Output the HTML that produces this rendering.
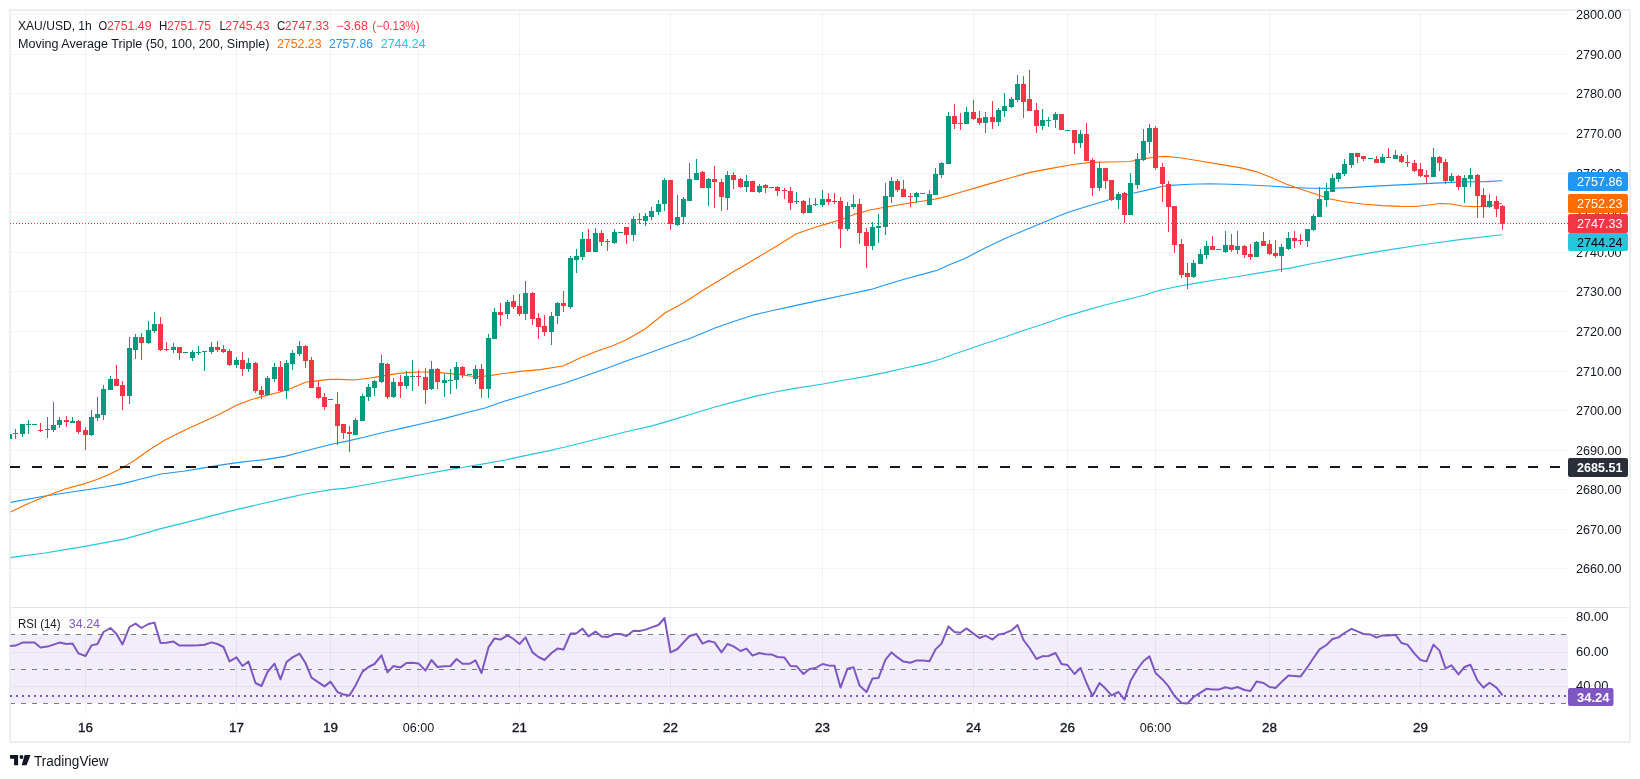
<!DOCTYPE html>
<html lang="en"><head><meta charset="utf-8"><title>XAU/USD 1h chart</title>
<style>html,body{margin:0;padding:0;background:#fff}svg{display:block;will-change:transform}text{font-family:"Liberation Sans",Arial,sans-serif;font-size:12px;fill:#131722}.ax{font-size:12.4px}.b{font-weight:bold}.d{font-size:13.4px;stroke:#131722;stroke-width:.35px}</style>
</head><body>
<svg width="1640" height="779" viewBox="0 0 1640 779">
<rect width="1640" height="779" fill="#fff"/>
<g shape-rendering="crispEdges" fill="#2a2e39" fill-opacity="0.06">
<rect x="85" y="11" width="1" height="596"/>
<rect x="85" y="608" width="1" height="105"/>
<rect x="236" y="11" width="1" height="596"/>
<rect x="236" y="608" width="1" height="105"/>
<rect x="330" y="11" width="1" height="596"/>
<rect x="330" y="608" width="1" height="105"/>
<rect x="418" y="11" width="1" height="596"/>
<rect x="418" y="608" width="1" height="105"/>
<rect x="519" y="11" width="1" height="596"/>
<rect x="519" y="608" width="1" height="105"/>
<rect x="670" y="11" width="1" height="596"/>
<rect x="670" y="608" width="1" height="105"/>
<rect x="822" y="11" width="1" height="596"/>
<rect x="822" y="608" width="1" height="105"/>
<rect x="973" y="11" width="1" height="596"/>
<rect x="973" y="608" width="1" height="105"/>
<rect x="1067" y="11" width="1" height="596"/>
<rect x="1067" y="608" width="1" height="105"/>
<rect x="1155" y="11" width="1" height="596"/>
<rect x="1155" y="608" width="1" height="105"/>
<rect x="1269" y="11" width="1" height="596"/>
<rect x="1269" y="608" width="1" height="105"/>
<rect x="1420" y="11" width="1" height="596"/>
<rect x="1420" y="608" width="1" height="105"/>
<rect x="11" y="568" width="1557" height="1"/>
<rect x="11" y="529" width="1557" height="1"/>
<rect x="11" y="489" width="1557" height="1"/>
<rect x="11" y="450" width="1557" height="1"/>
<rect x="11" y="410" width="1557" height="1"/>
<rect x="11" y="371" width="1557" height="1"/>
<rect x="11" y="331" width="1557" height="1"/>
<rect x="11" y="291" width="1557" height="1"/>
<rect x="11" y="252" width="1557" height="1"/>
<rect x="11" y="212" width="1557" height="1"/>
<rect x="11" y="173" width="1557" height="1"/>
<rect x="11" y="133" width="1557" height="1"/>
<rect x="11" y="93" width="1557" height="1"/>
<rect x="11" y="54" width="1557" height="1"/>
<rect x="11" y="14" width="1557" height="1"/>
<rect x="11" y="617" width="1557" height="1"/>
<rect x="11" y="652" width="1557" height="1"/>
<rect x="11" y="686" width="1557" height="1"/>
</g>
<rect x="10" y="634" width="1558" height="69" fill="#7e57c2" fill-opacity="0.1" shape-rendering="crispEdges"/>
<g stroke="#787b86" stroke-width="1" stroke-dasharray="5 6" shape-rendering="crispEdges">
<line x1="10" y1="634.5" x2="1568" y2="634.5"/>
<line x1="10" y1="669.5" x2="1568" y2="669.5"/>
<line x1="10" y1="703.5" x2="1568" y2="703.5"/>
</g>
<g shape-rendering="crispEdges">
<rect x="10" y="10" width="1620" height="732" fill="none" stroke="#eceef3" stroke-width="2"/>
<rect x="11" y="607" width="1618" height="1" fill="#e0e3eb"/>
</g>
<polyline fill="none" stroke="#26c6da" stroke-width="1.1" stroke-linejoin="round" points="10.6,557.6 25.0,555.6 45.0,553.0 65.0,549.6 85.0,546.4 105.0,542.6 123.0,539.4 141.0,534.4 161.0,528.6 181.0,523.6 205.0,517.6 225.0,512.4 245.0,507.6 265.0,503.0 285.0,498.4 305.0,494.0 332.6,489.4 345.0,488.4 365.0,485.0 385.0,481.2 405.0,477.6 425.0,474.0 445.0,470.4 465.0,467.0 485.0,463.6 505.0,460.0 525.0,455.6 545.0,451.6 565.0,447.0 585.0,442.0 605.0,437.0 625.0,432.0 653.0,425.6 671.0,420.4 695.0,413.0 715.0,407.0 735.0,401.6 755.0,396.4 775.0,392.0 795.0,388.4 823.0,384.0 845.0,380.0 865.0,376.6 885.0,372.6 905.0,368.0 925.0,363.6 941.0,359.0 957.0,353.0 965.0,350.4 985.0,343.6 1005.0,337.0 1025.0,330.0 1045.0,323.4 1065.0,316.6 1085.0,310.6 1105.0,305.0 1125.0,300.0 1145.0,295.0 1157.0,291.0 1175.0,287.0 1195.0,283.4 1215.0,280.0 1235.0,277.0 1255.0,273.6 1275.0,270.4 1292.6,267.6 1310.0,264.0 1350.0,256.4 1390.0,249.6 1431.0,243.5 1461.6,239.4 1502.0,234.8"/>
<polyline fill="none" stroke="#2196f3" stroke-width="1.1" stroke-linejoin="round" points="10.6,502.4 45.0,496.0 85.0,490.0 105.0,487.0 123.0,483.6 141.0,479.0 161.0,474.0 185.0,471.0 205.0,467.6 225.0,464.4 245.0,461.6 265.0,459.6 285.0,456.4 305.0,451.0 332.6,444.0 345.0,441.6 365.0,437.0 385.0,432.0 405.0,427.6 425.0,423.0 445.0,418.4 465.0,413.0 485.0,408.0 505.0,401.0 519.0,397.0 545.0,389.0 565.0,383.0 585.0,376.0 605.0,369.0 629.0,360.0 645.0,354.4 671.0,345.0 691.0,338.0 715.0,328.0 735.0,321.0 755.0,314.6 775.0,310.0 795.0,305.6 823.0,299.6 845.0,295.0 871.0,289.4 885.0,285.0 905.0,279.0 925.0,273.6 938.0,270.0 950.0,264.5 965.0,258.4 985.0,248.0 1005.0,238.6 1025.0,230.0 1041.0,223.6 1055.0,217.6 1069.0,212.0 1085.0,207.0 1105.0,201.0 1118.0,197.0 1134.0,193.0 1150.0,189.4 1160.0,187.0 1170.0,185.4 1190.0,184.2 1210.0,183.8 1230.0,184.2 1250.0,185.0 1270.0,186.0 1290.0,187.4 1310.0,188.2 1330.0,188.4 1350.0,187.6 1370.0,186.4 1390.0,185.4 1410.0,184.4 1431.0,183.4 1450.0,182.4 1461.6,182.0 1486.0,181.6 1502.0,180.8"/>
<polyline fill="none" stroke="#ff6d00" stroke-width="1.1" stroke-linejoin="round" points="10.6,512.0 25.0,505.0 45.0,496.6 65.0,489.0 85.0,483.6 97.0,479.6 109.0,474.4 123.0,467.4 135.0,460.0 149.0,450.0 165.0,440.0 185.0,430.0 207.0,420.0 220.0,414.0 236.0,405.6 250.0,400.0 262.0,396.6 280.0,392.0 292.0,388.0 306.0,382.0 312.0,381.6 320.0,380.4 330.0,379.4 340.0,379.4 354.0,380.0 370.0,378.0 380.0,376.4 392.0,374.4 406.0,372.6 420.0,372.0 430.0,372.0 440.0,372.6 450.0,373.6 460.0,374.6 470.0,376.0 480.0,376.6 490.0,375.6 500.0,374.0 520.0,371.4 540.0,369.6 563.0,366.0 580.0,358.0 596.0,351.6 612.0,346.0 626.0,340.0 645.0,329.0 665.0,313.0 685.0,302.0 705.0,289.0 725.0,277.0 736.0,270.0 740.0,268.0 760.0,256.0 780.0,244.0 796.0,234.0 810.0,229.0 824.0,224.6 840.0,220.0 854.0,214.4 870.0,210.0 886.0,207.0 910.0,203.0 930.0,200.0 942.0,197.6 958.0,193.0 974.0,188.4 990.0,183.6 1010.0,178.0 1030.0,172.4 1050.0,168.6 1070.0,165.0 1090.0,162.4 1110.0,162.0 1130.0,161.5 1146.0,158.4 1156.0,157.0 1166.0,156.4 1180.0,157.8 1200.0,161.0 1220.0,164.4 1240.0,167.6 1256.0,171.6 1270.0,177.0 1286.0,184.0 1300.0,189.0 1314.0,193.6 1330.0,199.0 1346.0,202.0 1362.0,204.0 1382.0,205.6 1400.0,206.4 1415.0,206.5 1431.0,204.7 1440.0,203.5 1451.0,204.0 1462.0,206.0 1474.0,206.6 1486.0,206.3 1495.5,204.7 1502.0,203.2"/>
<g shape-rendering="crispEdges">
<path fill="#089981" d="M10 434h2v5h-2zM15 429h1v10h-1zM13 433h5v1h-5zM22 424h1v13h-1zM20 424h5v10h-5zM28 420h1v14h-1zM26 424h5v1h-5zM32 424h5v1h-5zM47 417h1v21h-1zM45 429h5v1h-5zM53 402h1v30h-1zM51 425h5v5h-5zM59 417h1v11h-1zM57 420h5v5h-5zM72 417h1v6h-1zM70 421h5v2h-5zM91 410h1v26h-1zM89 417h5v18h-5zM97 397h1v24h-1zM95 414h5v4h-5zM103 385h1v35h-1zM101 389h5v26h-5zM110 376h1v14h-1zM108 379h5v11h-5zM129 337h1v67h-1zM127 348h5v48h-5zM135 334h1v25h-1zM133 337h5v13h-5zM148 321h1v23h-1zM146 330h5v13h-5zM154 312h1v21h-1zM152 324h5v7h-5zM173 343h1v10h-1zM171 347h5v3h-5zM183 352h5v1h-5zM192 350h1v11h-1zM190 352h5v6h-5zM198 346h1v9h-1zM196 352h5v1h-5zM204 351h1v20h-1zM202 351h5v1h-5zM211 342h1v12h-1zM209 347h5v5h-5zM236 357h1v11h-1zM234 360h5v5h-5zM248 358h1v14h-1zM246 363h5v6h-5zM267 376h1v20h-1zM265 378h5v17h-5zM274 363h1v19h-1zM272 367h5v12h-5zM286 360h1v39h-1zM284 363h5v28h-5zM292 350h1v20h-1zM290 353h5v11h-5zM299 341h1v15h-1zM297 346h5v8h-5zM328 399h5v1h-5zM355 418h1v17h-1zM353 420h5v15h-5zM362 394h1v27h-1zM360 396h5v25h-5zM368 384h1v17h-1zM366 387h5v10h-5zM374 380h1v16h-1zM372 381h5v7h-5zM381 355h1v28h-1zM379 363h5v19h-5zM393 378h1v20h-1zM391 382h5v15h-5zM406 371h1v18h-1zM404 376h5v10h-5zM412 360h1v31h-1zM410 376h5v1h-5zM431 361h1v29h-1zM429 369h5v20h-5zM444 374h1v23h-1zM442 380h5v3h-5zM450 369h1v25h-1zM448 380h5v1h-5zM456 362h1v27h-1zM454 367h5v13h-5zM467 374h5v1h-5zM475 365h1v19h-1zM473 369h5v10h-5zM488 334h1v64h-1zM486 338h5v51h-5zM494 308h1v31h-1zM492 312h5v27h-5zM507 300h1v19h-1zM505 302h5v12h-5zM525 281h1v39h-1zM523 293h5v21h-5zM551 312h1v33h-1zM549 316h5v16h-5zM557 302h1v22h-1zM555 303h5v13h-5zM570 256h1v53h-1zM568 258h5v49h-5zM576 249h1v24h-1zM574 256h5v4h-5zM582 232h1v28h-1zM580 239h5v18h-5zM595 228h1v24h-1zM593 233h5v19h-5zM614 229h1v15h-1zM612 232h5v11h-5zM618 232h5v1h-5zM633 216h1v25h-1zM631 219h5v16h-5zM645 213h1v13h-1zM643 216h5v5h-5zM651 207h1v13h-1zM649 211h5v6h-5zM658 200h1v15h-1zM656 204h5v8h-5zM664 178h1v33h-1zM662 180h5v24h-5zM677 195h1v31h-1zM675 217h5v8h-5zM683 197h1v27h-1zM681 199h5v18h-5zM689 163h1v38h-1zM687 179h5v22h-5zM696 159h1v21h-1zM694 173h5v7h-5zM708 178h1v28h-1zM706 179h5v9h-5zM727 171h1v39h-1zM725 175h5v23h-5zM746 175h1v17h-1zM744 181h5v6h-5zM759 184h1v9h-1zM757 186h5v6h-5zM769 187h5v1h-5zM796 192h1v12h-1zM794 201h5v1h-5zM809 198h1v15h-1zM807 205h5v8h-5zM815 198h1v8h-1zM813 204h5v1h-5zM822 190h1v17h-1zM820 199h5v6h-5zM847 202h1v29h-1zM845 206h5v23h-5zM853 195h1v14h-1zM851 204h5v3h-5zM872 222h1v28h-1zM870 227h5v19h-5zM878 214h1v29h-1zM876 226h5v2h-5zM885 183h1v52h-1zM883 196h5v31h-5zM891 177h1v26h-1zM889 181h5v16h-5zM916 192h1v11h-1zM914 193h5v4h-5zM920 193h5v1h-5zM929 190h1v15h-1zM927 194h5v11h-5zM935 168h1v27h-1zM933 174h5v21h-5zM941 162h1v16h-1zM939 163h5v12h-5zM948 112h1v52h-1zM946 116h5v48h-5zM966 107h1v17h-1zM964 112h5v12h-5zM985 112h1v21h-1zM983 117h5v6h-5zM998 108h1v18h-1zM996 110h5v12h-5zM1004 93h1v24h-1zM1002 106h5v5h-5zM1011 97h1v11h-1zM1009 99h5v8h-5zM1017 75h1v27h-1zM1015 84h5v16h-5zM1042 109h1v21h-1zM1040 120h5v6h-5zM1048 117h1v10h-1zM1046 120h5v1h-5zM1055 112h1v16h-1zM1053 114h5v6h-5zM1065 130h5v1h-5zM1080 130h1v18h-1zM1078 134h5v9h-5zM1099 162h1v29h-1zM1097 168h5v20h-5zM1118 192h1v17h-1zM1116 194h5v6h-5zM1130 173h1v42h-1zM1128 183h5v32h-5zM1137 153h1v36h-1zM1135 159h5v26h-5zM1143 129h1v32h-1zM1141 141h5v19h-5zM1149 124h1v29h-1zM1147 128h5v14h-5zM1193 260h1v18h-1zM1191 263h5v14h-5zM1200 249h1v15h-1zM1198 254h5v10h-5zM1206 241h1v18h-1zM1204 246h5v9h-5zM1216 249h5v1h-5zM1225 231h1v22h-1zM1223 245h5v7h-5zM1237 231h1v23h-1zM1235 246h5v4h-5zM1256 241h1v16h-1zM1254 242h5v15h-5zM1281 244h1v28h-1zM1279 247h5v9h-5zM1288 232h1v18h-1zM1286 238h5v11h-5zM1307 229h1v18h-1zM1305 229h5v12h-5zM1313 214h1v17h-1zM1311 216h5v14h-5zM1319 187h1v30h-1zM1317 199h5v18h-5zM1326 183h1v24h-1zM1324 191h5v9h-5zM1332 174h1v18h-1zM1330 178h5v14h-5zM1338 172h1v10h-1zM1336 173h5v6h-5zM1344 159h1v17h-1zM1342 164h5v10h-5zM1351 153h1v15h-1zM1349 153h5v12h-5zM1368 158h5v1h-5zM1382 154h1v9h-1zM1380 157h5v6h-5zM1395 150h1v9h-1zM1393 155h5v4h-5zM1433 148h1v29h-1zM1431 157h5v20h-5zM1451 173h1v10h-1zM1449 176h5v5h-5zM1464 175h1v28h-1zM1462 178h5v9h-5zM1470 168h1v19h-1zM1468 175h5v4h-5zM1489 194h1v14h-1zM1487 201h5v6h-5z"/>
<path fill="#f23645" d="M40 423h1v9h-1zM38 430h5v1h-5zM66 416h1v11h-1zM64 420h5v2h-5zM78 420h1v14h-1zM76 421h5v11h-5zM85 427h1v23h-1zM83 430h5v5h-5zM116 365h1v21h-1zM114 379h5v7h-5zM122 381h1v29h-1zM120 385h5v11h-5zM141 333h1v27h-1zM139 337h5v6h-5zM160 317h1v34h-1zM158 324h5v26h-5zM166 342h1v9h-1zM164 349h5v1h-5zM179 347h1v13h-1zM177 347h5v6h-5zM217 341h1v11h-1zM215 347h5v3h-5zM223 345h1v8h-1zM221 349h5v3h-5zM229 349h1v17h-1zM227 351h5v14h-5zM242 352h1v24h-1zM240 360h5v9h-5zM255 362h1v31h-1zM253 363h5v28h-5zM261 386h1v13h-1zM259 390h5v5h-5zM280 361h1v31h-1zM278 367h5v24h-5zM305 345h1v23h-1zM303 346h5v15h-5zM311 357h1v31h-1zM309 360h5v28h-5zM318 381h1v18h-1zM316 387h5v11h-5zM324 393h1v17h-1zM322 397h5v10h-5zM337 392h1v53h-1zM335 404h5v22h-5zM343 424h1v15h-1zM341 424h5v9h-5zM349 426h1v26h-1zM347 432h5v2h-5zM387 363h1v36h-1zM385 364h5v33h-5zM400 375h1v23h-1zM398 382h5v4h-5zM418 370h1v16h-1zM416 376h5v1h-5zM425 368h1v36h-1zM423 377h5v13h-5zM437 368h1v21h-1zM435 369h5v13h-5zM462 366h1v12h-1zM460 367h5v8h-5zM481 364h1v34h-1zM479 369h5v20h-5zM500 303h1v23h-1zM498 312h5v3h-5zM513 295h1v14h-1zM511 301h5v6h-5zM519 294h1v22h-1zM517 306h5v8h-5zM532 292h1v33h-1zM530 293h5v26h-5zM538 313h1v26h-1zM536 318h5v9h-5zM544 315h1v21h-1zM542 326h5v6h-5zM563 291h1v21h-1zM561 303h5v3h-5zM588 229h1v23h-1zM586 239h5v13h-5zM601 230h1v16h-1zM599 233h5v9h-5zM607 239h1v12h-1zM605 241h5v1h-5zM626 227h1v17h-1zM624 227h5v8h-5zM639 213h1v11h-1zM637 219h5v1h-5zM670 180h1v50h-1zM668 180h5v44h-5zM702 171h1v17h-1zM700 172h5v16h-5zM714 166h1v42h-1zM712 179h5v3h-5zM721 179h1v32h-1zM719 182h5v15h-5zM733 172h1v17h-1zM731 175h5v5h-5zM740 178h1v10h-1zM738 179h5v8h-5zM750 181h5v11h-5zM765 184h1v9h-1zM763 185h5v3h-5zM777 186h1v10h-1zM775 187h5v4h-5zM784 188h1v11h-1zM782 190h5v1h-5zM790 187h1v23h-1zM788 191h5v12h-5zM803 200h1v14h-1zM801 201h5v12h-5zM828 193h1v12h-1zM826 199h5v3h-5zM834 193h1v11h-1zM832 201h5v1h-5zM840 197h1v51h-1zM838 201h5v28h-5zM859 199h1v45h-1zM857 204h5v29h-5zM866 228h1v40h-1zM864 232h5v14h-5zM897 179h1v13h-1zM895 181h5v9h-5zM903 180h1v17h-1zM901 189h5v8h-5zM910 193h1v14h-1zM908 196h5v1h-5zM954 104h1v25h-1zM952 116h5v8h-5zM960 113h1v17h-1zM958 123h5v1h-5zM973 100h1v20h-1zM971 112h5v7h-5zM979 111h1v14h-1zM977 118h5v5h-5zM992 101h1v28h-1zM990 117h5v5h-5zM1023 76h1v42h-1zM1021 84h5v18h-5zM1029 70h1v41h-1zM1027 99h5v12h-5zM1036 103h1v30h-1zM1034 110h5v16h-5zM1059 114h5v16h-5zM1074 130h1v24h-1zM1072 130h5v13h-5zM1086 123h1v38h-1zM1084 134h5v27h-5zM1092 158h1v38h-1zM1090 160h5v28h-5zM1105 168h1v21h-1zM1103 168h5v13h-5zM1111 180h1v21h-1zM1109 180h5v20h-5zM1124 192h1v31h-1zM1122 193h5v22h-5zM1155 126h1v44h-1zM1153 128h5v40h-5zM1162 163h1v39h-1zM1160 167h5v17h-5zM1168 181h1v51h-1zM1166 184h5v23h-5zM1174 206h1v47h-1zM1172 206h5v39h-5zM1181 239h1v39h-1zM1179 244h5v31h-5zM1187 263h1v26h-1zM1185 273h5v4h-5zM1212 236h1v14h-1zM1210 246h5v4h-5zM1231 234h1v18h-1zM1229 245h5v5h-5zM1244 245h1v13h-1zM1242 246h5v9h-5zM1250 244h1v16h-1zM1248 254h5v3h-5zM1263 232h1v14h-1zM1261 241h5v5h-5zM1269 240h1v15h-1zM1267 244h5v10h-5zM1275 240h1v18h-1zM1273 253h5v3h-5zM1294 231h1v17h-1zM1292 238h5v3h-5zM1300 234h1v11h-1zM1298 240h5v1h-5zM1357 153h1v10h-1zM1355 153h5v4h-5zM1363 156h1v5h-1zM1361 156h5v3h-5zM1376 156h1v7h-1zM1374 159h5v4h-5zM1388 148h1v10h-1zM1386 157h5v1h-5zM1401 154h1v9h-1zM1399 156h5v6h-5zM1407 155h1v12h-1zM1405 162h5v1h-5zM1414 160h1v12h-1zM1412 163h5v8h-5zM1420 163h1v14h-1zM1418 169h5v7h-5zM1426 170h1v13h-1zM1424 175h5v2h-5zM1439 156h1v15h-1zM1437 157h5v6h-5zM1445 159h1v25h-1zM1443 162h5v19h-5zM1458 175h1v15h-1zM1456 176h5v11h-5zM1477 174h1v44h-1zM1475 175h5v21h-5zM1483 188h1v30h-1zM1481 195h5v12h-5zM1496 196h1v21h-1zM1494 201h5v8h-5zM1502 205h1v25h-1zM1500 206h5v18h-5z"/>
</g>
<line x1="10" y1="467" x2="1568" y2="467" stroke="#131722" stroke-width="2" stroke-dasharray="10 12" shape-rendering="crispEdges"/>
<line x1="10" y1="223.5" x2="1568" y2="223.5" stroke="#f23645" stroke-width="1" stroke-dasharray="1 2" shape-rendering="crispEdges"/>
<line x1="10" y1="696" x2="1568" y2="696" stroke="#7e57c2" stroke-width="2" stroke-dasharray="2 4" shape-rendering="crispEdges"/>
<polyline fill="none" stroke="#7e57c2" stroke-width="2" stroke-linejoin="round" points="10.0,646.0 15.5,645.6 22.5,642.6 28.5,642.4 34.5,642.4 40.5,647.4 47.5,646.6 53.5,644.6 59.5,642.6 66.5,644.0 72.5,643.6 78.5,653.4 85.5,656.0 91.5,645.4 97.5,644.0 103.5,632.0 110.5,628.0 116.5,634.0 122.5,644.4 129.5,627.0 135.5,623.6 141.5,628.0 148.5,624.0 154.5,622.6 160.5,643.0 166.5,642.8 173.5,641.6 179.5,645.6 185.5,645.6 192.5,645.4 198.5,645.2 204.5,644.8 211.5,642.4 217.5,644.0 223.5,647.0 229.5,661.4 236.5,657.4 242.5,666.0 248.5,661.6 255.5,683.0 261.5,686.0 267.5,672.0 274.5,663.6 280.5,679.4 286.5,662.0 292.5,657.4 299.5,653.6 305.5,663.0 311.5,677.6 318.5,682.4 324.5,686.4 330.5,681.6 337.5,692.0 343.5,694.6 349.5,695.6 355.5,685.4 362.5,671.6 368.5,667.0 374.5,664.0 381.5,655.4 387.5,672.4 393.5,666.0 400.5,667.4 406.5,663.0 412.5,662.8 418.5,663.4 425.5,670.6 431.5,660.0 437.5,667.0 444.5,666.2 450.5,666.0 456.5,659.0 462.5,663.8 469.5,663.8 475.5,660.4 481.5,673.0 488.5,647.4 494.5,638.4 500.5,639.6 507.5,635.4 513.5,639.0 519.5,644.0 525.5,637.4 532.5,652.4 538.5,657.0 544.5,660.0 551.5,653.0 557.5,648.6 563.5,649.6 570.5,633.6 576.5,633.2 582.5,628.6 588.5,636.4 595.5,631.6 601.5,636.6 607.5,637.0 614.5,634.0 620.5,634.0 626.5,636.0 633.5,630.8 639.5,631.0 645.5,629.6 651.5,627.4 658.5,625.0 664.5,618.0 670.5,652.4 677.5,649.0 683.5,642.4 689.5,636.0 696.5,634.0 702.5,643.6 708.5,641.0 714.5,642.4 721.5,652.4 727.5,644.0 733.5,646.4 740.5,651.0 746.5,648.6 752.5,655.6 759.5,653.0 765.5,654.2 771.5,654.4 777.5,657.0 784.5,657.6 790.5,666.0 796.5,666.2 803.5,674.0 809.5,669.0 815.5,668.0 822.5,664.0 828.5,665.4 834.5,665.8 840.5,687.6 847.5,668.6 853.5,667.2 859.5,685.4 866.5,692.0 872.5,678.4 878.5,678.0 885.5,659.6 891.5,652.4 897.5,657.4 903.5,661.6 910.5,662.8 916.5,660.4 922.5,660.4 929.5,661.2 935.5,649.4 941.5,643.6 948.5,626.4 954.5,632.0 960.5,632.8 966.5,628.4 973.5,633.6 979.5,638.0 985.5,635.6 992.5,639.6 998.5,634.6 1004.5,633.4 1011.5,630.4 1017.5,625.0 1023.5,640.0 1029.5,648.0 1036.5,659.0 1042.5,656.2 1048.5,656.0 1055.5,653.0 1061.5,664.0 1067.5,665.0 1074.5,674.0 1080.5,668.0 1086.5,683.0 1092.5,696.0 1099.5,683.0 1105.5,688.6 1111.5,695.4 1118.5,692.0 1124.5,699.6 1130.5,681.0 1137.5,669.0 1143.5,661.0 1149.5,656.4 1155.5,673.0 1162.5,679.4 1168.5,686.4 1174.5,696.0 1181.5,703.0 1187.5,703.4 1193.5,697.0 1200.5,692.6 1206.5,688.8 1212.5,689.6 1218.5,689.6 1225.5,687.2 1231.5,688.8 1237.5,687.0 1244.5,690.0 1250.5,691.0 1256.5,681.6 1263.5,683.0 1269.5,687.0 1275.5,688.0 1281.5,682.0 1288.5,675.6 1294.5,676.0 1300.5,676.6 1307.5,667.0 1313.5,658.0 1319.5,649.4 1326.5,645.0 1332.5,639.0 1338.5,637.4 1344.5,633.0 1351.5,628.8 1357.5,631.4 1363.5,634.0 1370.5,634.4 1376.5,637.6 1382.5,635.4 1388.5,635.4 1395.5,634.8 1401.5,643.0 1407.5,644.6 1414.5,653.6 1420.5,660.0 1426.5,661.4 1433.5,644.6 1439.5,650.6 1445.5,668.4 1451.5,665.4 1458.5,674.4 1464.5,667.0 1470.5,664.8 1477.5,680.6 1483.5,687.6 1489.5,682.8 1496.5,687.6 1502.5,695.4"/>
<g class="ax">
<text class="ax" x="1576" y="573.0" textLength="45.5" lengthAdjust="spacingAndGlyphs">2660.00</text>
<text class="ax" x="1576" y="534.0" textLength="45.5" lengthAdjust="spacingAndGlyphs">2670.00</text>
<text class="ax" x="1576" y="494.0" textLength="45.5" lengthAdjust="spacingAndGlyphs">2680.00</text>
<text class="ax" x="1576" y="455.0" textLength="45.5" lengthAdjust="spacingAndGlyphs">2690.00</text>
<text class="ax" x="1576" y="415.0" textLength="45.5" lengthAdjust="spacingAndGlyphs">2700.00</text>
<text class="ax" x="1576" y="376.0" textLength="45.5" lengthAdjust="spacingAndGlyphs">2710.00</text>
<text class="ax" x="1576" y="336.0" textLength="45.5" lengthAdjust="spacingAndGlyphs">2720.00</text>
<text class="ax" x="1576" y="296.0" textLength="45.5" lengthAdjust="spacingAndGlyphs">2730.00</text>
<text class="ax" x="1576" y="257.0" textLength="45.5" lengthAdjust="spacingAndGlyphs">2740.00</text>
<text class="ax" x="1576" y="217.0" textLength="45.5" lengthAdjust="spacingAndGlyphs">2750.00</text>
<text class="ax" x="1576" y="178.0" textLength="45.5" lengthAdjust="spacingAndGlyphs">2760.00</text>
<text class="ax" x="1576" y="138.0" textLength="45.5" lengthAdjust="spacingAndGlyphs">2770.00</text>
<text class="ax" x="1576" y="98.0" textLength="45.5" lengthAdjust="spacingAndGlyphs">2780.00</text>
<text class="ax" x="1576" y="59.0" textLength="45.5" lengthAdjust="spacingAndGlyphs">2790.00</text>
<text class="ax" x="1576" y="19.0" textLength="45.5" lengthAdjust="spacingAndGlyphs">2800.00</text>
<text class="ax" x="1576" y="621.1" textLength="32.5" lengthAdjust="spacingAndGlyphs">80.00</text>
<text class="ax" x="1576" y="655.7" textLength="32.5" lengthAdjust="spacingAndGlyphs">60.00</text>
<text class="ax" x="1576" y="690.3" textLength="32.5" lengthAdjust="spacingAndGlyphs">40.00</text>
</g>
<rect x="1568" y="172" width="60" height="19" rx="2" ry="2" fill="#2196f3"/>
<text class="ax" x="1577" y="186.1" style="fill:#fff" textLength="45.5" lengthAdjust="spacingAndGlyphs">2757.86</text>
<rect x="1568" y="194" width="60" height="19" rx="2" ry="2" fill="#ff6d00"/>
<text class="ax" x="1577" y="208.1" style="fill:#fff" textLength="45.5" lengthAdjust="spacingAndGlyphs">2752.23</text>
<rect x="1568" y="214" width="60" height="19" rx="2" ry="2" fill="#f23645"/>
<text class="ax" x="1577" y="228.1" style="fill:#fff" textLength="45.5" lengthAdjust="spacingAndGlyphs">2747.33</text>
<rect x="1568" y="233" width="60" height="18" rx="2" ry="2" fill="#26c6da"/>
<text class="ax" x="1577" y="246.6" style="fill:#000" textLength="45.5" lengthAdjust="spacingAndGlyphs">2744.24</text>
<rect x="1568" y="458" width="60" height="19" rx="2" ry="2" fill="#2a2e39"/>
<text class="ax b" x="1577" y="472.1" style="fill:#fff" textLength="45.5" lengthAdjust="spacingAndGlyphs">2685.51</text>
<rect x="1568" y="688" width="45.5" height="18" rx="2" ry="2" fill="#7e57c2"/>
<text class="ax b" x="1577" y="701.6" style="fill:#fff" textLength="32.5" lengthAdjust="spacingAndGlyphs">34.24</text>
<text x="85.5" y="732" text-anchor="middle" class="d">16</text>
<text x="236.5" y="732" text-anchor="middle" class="d">17</text>
<text x="330.5" y="732" text-anchor="middle" class="d">19</text>
<text x="418.5" y="732" text-anchor="middle" textLength="31.5" lengthAdjust="spacingAndGlyphs">06:00</text>
<text x="519.5" y="732" text-anchor="middle" class="d">21</text>
<text x="670.5" y="732" text-anchor="middle" class="d">22</text>
<text x="822.5" y="732" text-anchor="middle" class="d">23</text>
<text x="973.5" y="732" text-anchor="middle" class="d">24</text>
<text x="1067.5" y="732" text-anchor="middle" class="d">26</text>
<text x="1155.5" y="732" text-anchor="middle" textLength="31.5" lengthAdjust="spacingAndGlyphs">06:00</text>
<text x="1269.5" y="732" text-anchor="middle" class="d">28</text>
<text x="1420.5" y="732" text-anchor="middle" class="d">29</text>
<text x="18.0" y="30.0" textLength="73.8" lengthAdjust="spacingAndGlyphs">XAU/USD, 1h</text>
<text x="98.6" y="30.0" textLength="8.7" lengthAdjust="spacingAndGlyphs">O</text>
<text x="107.0" y="30.0" textLength="44.5" lengthAdjust="spacingAndGlyphs" style="fill:#f23645">2751.49</text>
<text x="159.0" y="30.0" textLength="8.3" lengthAdjust="spacingAndGlyphs">H</text>
<text x="167.0" y="30.0" textLength="44.0" lengthAdjust="spacingAndGlyphs" style="fill:#f23645">2751.75</text>
<text x="219.5" y="30.0" textLength="6.5" lengthAdjust="spacingAndGlyphs">L</text>
<text x="225.3" y="30.0" textLength="44.4" lengthAdjust="spacingAndGlyphs" style="fill:#f23645">2745.43</text>
<text x="277.0" y="30.0" textLength="8.3" lengthAdjust="spacingAndGlyphs">C</text>
<text x="284.7" y="30.0" textLength="44.5" lengthAdjust="spacingAndGlyphs" style="fill:#f23645">2747.33</text>
<text x="336.5" y="30.0" textLength="31.4" lengthAdjust="spacingAndGlyphs" style="fill:#f23645">−3.68</text>
<text x="372.3" y="30.0" textLength="47.2" lengthAdjust="spacingAndGlyphs" style="fill:#f23645">(−0.13%)</text>
<text x="18.0" y="47.6" textLength="251.5" lengthAdjust="spacingAndGlyphs">Moving Average Triple (50, 100, 200, Simple)</text>
<text x="277.0" y="47.6" textLength="44.5" lengthAdjust="spacingAndGlyphs" style="fill:#ff6d00">2752.23</text>
<text x="329.0" y="47.6" textLength="44.0" lengthAdjust="spacingAndGlyphs" style="fill:#2196f3">2757.86</text>
<text x="380.8" y="47.6" textLength="44.8" lengthAdjust="spacingAndGlyphs" style="fill:#26c6da">2744.24</text>
<text x="18.0" y="627.8" textLength="42.5" lengthAdjust="spacingAndGlyphs">RSI (14)</text>
<text x="68.8" y="627.8" textLength="31.2" lengthAdjust="spacingAndGlyphs" style="fill:#7e57c2">34.24</text>
<g fill="#131722"><path d="M10 755h8.1v10.3h-4.05v-6.5H10z"/><circle cx="21.4" cy="757" r="1.9"/><path d="M24.6 755h5.9l-3.9 10.3h-4.9z"/></g>
<text x="34" y="765.7" style="font-size:14px" textLength="74.5" lengthAdjust="spacingAndGlyphs">TradingView</text>
</svg></body></html>
